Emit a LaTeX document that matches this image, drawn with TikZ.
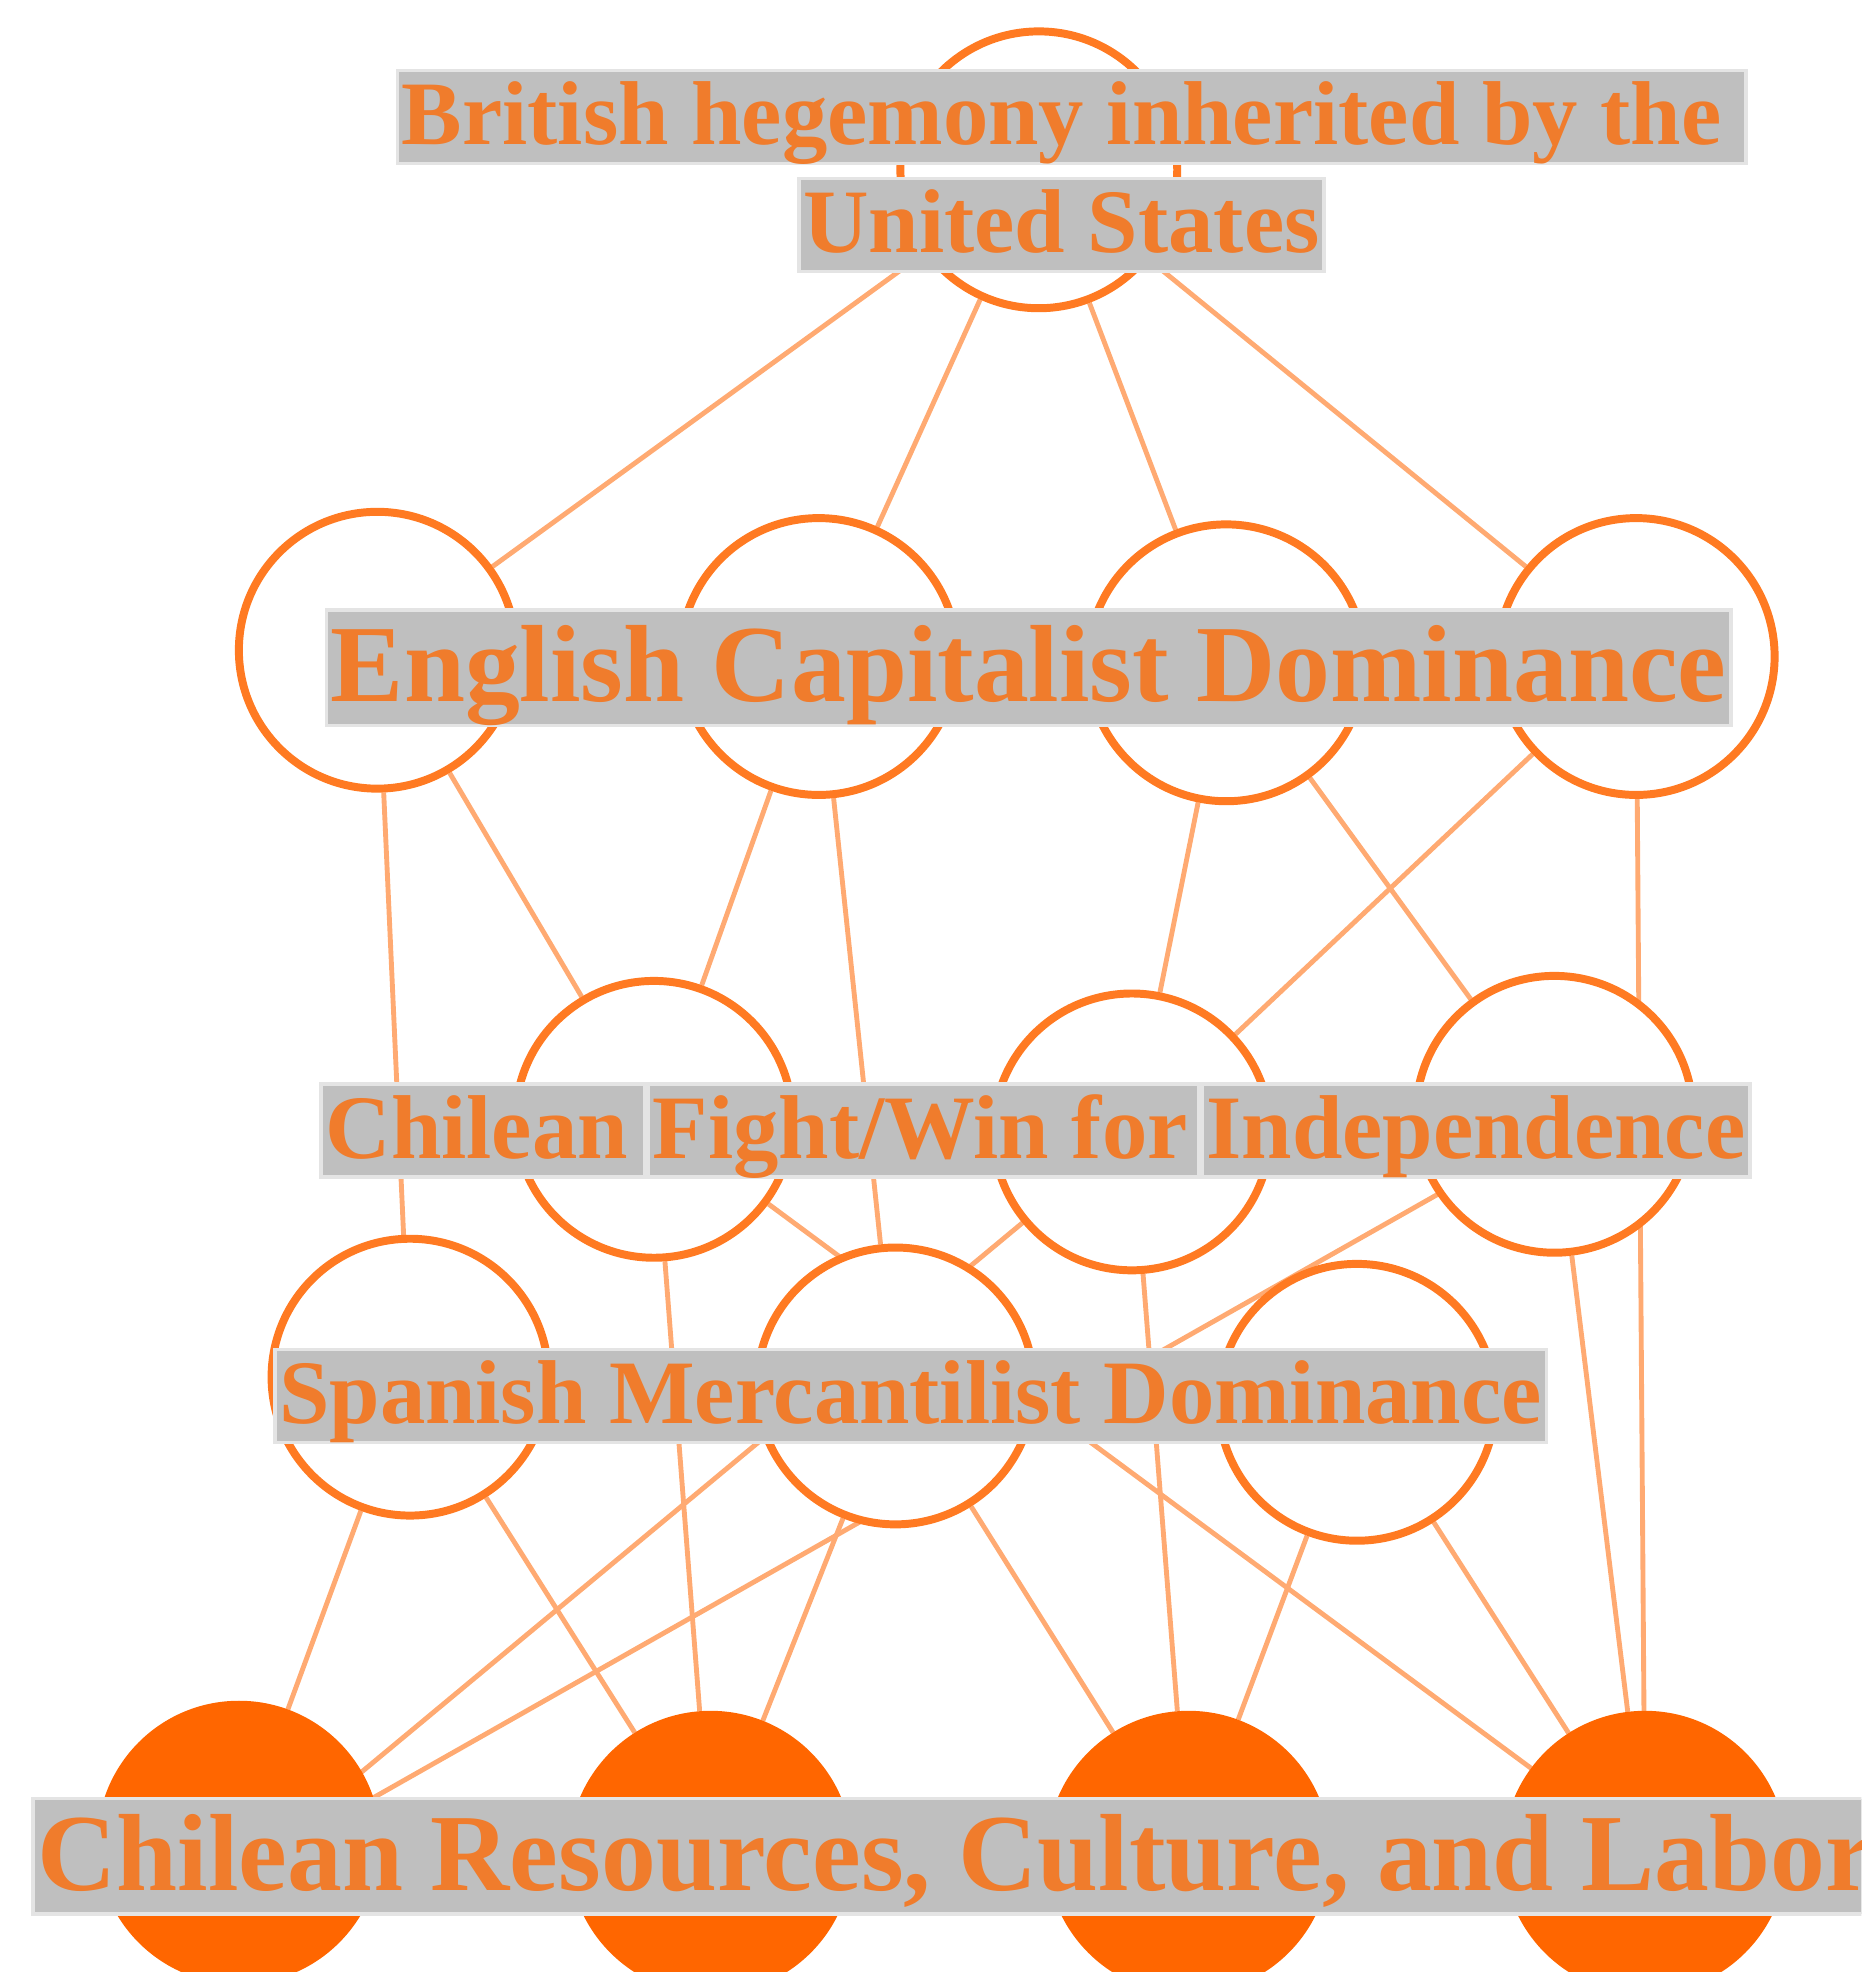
\documentclass[tikz,border=0pt]{standalone}
\usepackage{fontspec}
\setmainfont{Liberation Serif}
\usepackage{tikz}
\usetikzlibrary{positioning, backgrounds}
\definecolor{ringorange}{HTML}{FF7A22}
\definecolor{fillorange}{HTML}{FF6600}
\definecolor{linkorange}{HTML}{FFAA72}
\definecolor{textorange}{HTML}{F07C2C}
\definecolor{labelgray}{HTML}{BFBFBF}
\definecolor{rimgray}{HTML}{E4E4E4}

\begin{document}
\begin{tikzpicture}[
    x=0.01cm, y=-0.01cm,
    concept/.style={circle, draw=ringorange, line width=1.8pt, fill=white, minimum size=2.2cm, inner sep=0pt},
    source/.style={circle, draw=fillorange, fill=fillorange, line width=1.5pt, minimum size=2.2cm, inner sep=0pt},
    link/.style={draw=linkorange, line width=1.1pt},
    tag/.style={rectangle, fill=labelgray, draw=rimgray, line width=0.8pt, text=textorange,
        font=\bfseries\fontsize{20.5}{24}\selectfont, inner xsep=1pt, inner ysep=2pt,
        text height=14.7pt, text depth=2.3pt},
    bigtag/.style={tag, font=\bfseries\fontsize{24.8}{29}\selectfont, inner ysep=2.5pt,
        text height=18.2pt, text depth=2.9pt}
]
    \useasboundingbox (0,0) rectangle (1480,1568);
    \clip (0,0) rectangle (1480,1568);

    % Top level
    \node[concept] (us) at (826,135) {};
    % English capitalist level
    \node[concept] (cap1) at (300,517) {};
    \node[concept] (cap2) at (651,522) {};
    \node[concept] (cap3) at (975,527) {};
    \node[concept] (cap4) at (1301,522) {};
    % Independence level
    \node[concept] (ind1) at (520,890) {};
    \node[concept] (ind2) at (900,900) {};
    \node[concept] (ind3) at (1236,886) {};
    % Spanish mercantilist level
    \node[concept] (spa1) at (326,1095) {};
    \node[concept] (spa2) at (712,1102) {};
    \node[concept] (spa3) at (1079,1115) {};
    % Chilean resources
    \node[source] (res1) at (190,1465) {};
    \node[source] (res2) at (565,1473) {};
    \node[source] (res3) at (945,1473) {};
    \node[source] (res4) at (1308,1473) {};

    % Links
    \begin{pgfonlayer}{background}
        \draw[link] (us) -- (cap1) (us) -- (cap2) (us) -- (cap3) (us) -- (cap4);
        \draw[link] (cap1) -- (spa1) (cap1) -- (ind1) (cap2) -- (ind1) (cap2) -- (spa2);
        \draw[link] (cap3) -- (ind2) (cap3) -- (ind3) (cap4) -- (ind2) (cap4) -- (res4);
        \draw[link] (ind1) -- (res2) (ind1) -- (res4) (ind2) -- (res3);
        \draw[link] (ind2.center) -- ([yshift=-0.25cm]res1.center);
        \draw[link] ([yshift=-0.11cm]ind3.center) -- ([yshift=-0.25cm]res1.center);
        \draw[link] (ind3) -- (res4);
        \draw[link] (spa1) -- (res1) (spa1) -- (res2) (spa2) -- (res2) (spa2) -- (res3);
        \draw[link] (spa3) -- (res3) (spa3) -- (res4);
    \end{pgfonlayer}

    % Level labels
    \node[tag] (brit) at (852,93) {British hegemony inherited by the\kern0.22em};
    \node[tag] (states) at (844,179) {United States};
    \node[bigtag] (english) at (818,531) {English Capitalist Dominance};
    \node[tag, anchor=west] (fight) at (254,899) {Chilean\kern0.14em};
    \node[tag, right=0pt of fight] (win) {Fight/Win for\kern0.07em};
    \node[tag, right=0pt of win] (indep) {Independence};
    \node[tag] (spanish) at (724,1110) {Spanish Mercantilist Dominance};
    \node[bigtag, anchor=west] (chilean) at (25,1476) {Chilean Resources, Culture, and Labor};
\end{tikzpicture}
\end{document}
